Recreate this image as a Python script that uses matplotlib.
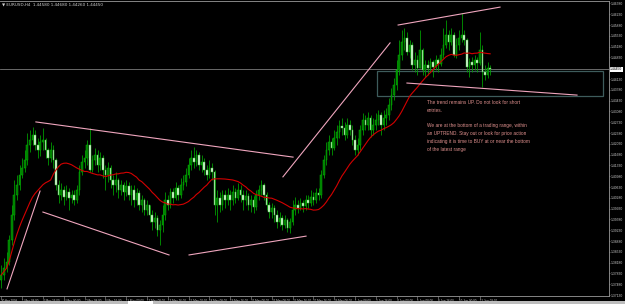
import numpy as np
import pandas as pd
import matplotlib
matplotlib.use("Agg")
import matplotlib.pyplot as plt
import matplotlib.transforms as mtransforms
from matplotlib.patches import Rectangle

# ---- data (H4 bars) ----
title_text = "\u25bc EURUSD,H4  1.44580 1.44680 1.44260 1.44450"

first_open = 1.3762
closes = [
    1.3778, 1.3801, 1.3820, 1.3891, 1.3972, 1.4037, 1.4070, 1.4102, 1.4125, 1.4151,
    1.4199, 1.4215, 1.4232, 1.4199, 1.4183, 1.4209, 1.4215, 1.4183, 1.4157, 1.4183,
    1.4151, 1.4070, 1.4037, 1.4053, 1.4031, 1.4047, 1.4027, 1.4037, 1.4021, 1.4053,
    1.4112, 1.4144, 1.4157, 1.4199, 1.4118, 1.4151, 1.4167, 1.4134, 1.4157, 1.4118,
    1.4102, 1.4125, 1.4086, 1.4070, 1.4086, 1.4053, 1.4070, 1.4047, 1.4066, 1.4037,
    1.4053, 1.4021, 1.4044, 1.4005, 1.4021, 1.3989, 1.4005, 1.3972, 1.3950, 1.3963,
    1.3924, 1.3940, 1.3972, 1.4021, 1.4005, 1.4047, 1.4027, 1.4060, 1.4037, 1.4070,
    1.4079, 1.4102, 1.4134, 1.4157, 1.4144, 1.4167, 1.4134, 1.4144, 1.4118, 1.4102,
    1.4125, 1.4112, 1.4005, 1.4027, 1.4005, 1.4037, 1.4021, 1.4037, 1.4021, 1.4047,
    1.4027, 1.4053, 1.4037, 1.4021, 1.4034, 1.4005, 1.4021, 1.3998, 1.4037, 1.4053,
    1.4070, 1.4037, 1.4005, 1.3982, 1.3995, 1.3972, 1.3950, 1.3963, 1.3940, 1.3956,
    1.3930, 1.3950, 1.3989, 1.4005, 1.3995, 1.4011, 1.4002, 1.4021, 1.4011, 1.4031,
    1.4021, 1.4044, 1.4037, 1.4102, 1.4151, 1.4183, 1.4209, 1.4189, 1.4222, 1.4241,
    1.4261, 1.4254, 1.4232, 1.4264, 1.4248, 1.4215, 1.4183, 1.4199, 1.4248, 1.4280,
    1.4264, 1.4287, 1.4248, 1.4264, 1.4280, 1.4296, 1.4264, 1.4287, 1.4296, 1.4329,
    1.4361, 1.4394, 1.4442, 1.4491, 1.4533, 1.4546, 1.4501, 1.4523, 1.4458, 1.4475,
    1.4449, 1.4507, 1.4442, 1.4458, 1.4449, 1.4468, 1.4452, 1.4475, 1.4462, 1.4491,
    1.4523, 1.4556, 1.4533, 1.4556, 1.4491, 1.4523, 1.4546, 1.4556, 1.4539, 1.4452,
    1.4468, 1.4458, 1.4475, 1.4465, 1.4507, 1.4436, 1.4426, 1.4449, 1.4445,
]
highs = [
    1.3810, 1.3833, 1.3853, 1.3908, 1.4005, 1.4086, 1.4102, 1.4134, 1.4157, 1.4183,
    1.4238, 1.4248, 1.4258, 1.4248, 1.4222, 1.4232, 1.4254, 1.4222, 1.4189, 1.4209,
    1.4199, 1.4157, 1.4086, 1.4076, 1.4066, 1.4070, 1.4060, 1.4053, 1.4053, 1.4070,
    1.4134, 1.4167, 1.4183, 1.4215, 1.4254, 1.4167, 1.4189, 1.4183, 1.4177, 1.4167,
    1.4134, 1.4144, 1.4134, 1.4102, 1.4112, 1.4092, 1.4086, 1.4079, 1.4086, 1.4079,
    1.4070, 1.4070, 1.4060, 1.4053, 1.4037, 1.4027, 1.4021, 1.4005, 1.3989, 1.3982,
    1.3972, 1.3956, 1.4005, 1.4047, 1.4037, 1.4060, 1.4060, 1.4079, 1.4070, 1.4092,
    1.4102, 1.4125, 1.4157, 1.4183, 1.4193, 1.4183, 1.4177, 1.4167, 1.4157, 1.4134,
    1.4151, 1.4141, 1.4118, 1.4053, 1.4047, 1.4053, 1.4053, 1.4060, 1.4053, 1.4070,
    1.4060, 1.4076, 1.4070, 1.4053, 1.4053, 1.4044, 1.4037, 1.4034, 1.4053, 1.4070,
    1.4086, 1.4076, 1.4047, 1.4015, 1.4011, 1.4005, 1.3989, 1.3982, 1.3972, 1.3972,
    1.3963, 1.3963, 1.4021, 1.4031, 1.4021, 1.4027, 1.4021, 1.4037, 1.4037, 1.4053,
    1.4047, 1.4060, 1.4060, 1.4118, 1.4167, 1.4209, 1.4232, 1.4222, 1.4248, 1.4264,
    1.4280, 1.4287, 1.4274, 1.4287, 1.4280, 1.4264, 1.4232, 1.4222, 1.4264, 1.4303,
    1.4296, 1.4306, 1.4296, 1.4287, 1.4303, 1.4313, 1.4306, 1.4313, 1.4319, 1.4351,
    1.4384, 1.4416, 1.4475, 1.4539, 1.4572, 1.4578, 1.4565, 1.4539, 1.4533, 1.4501,
    1.4491, 1.4572, 1.4513, 1.4475, 1.4475, 1.4481, 1.4475, 1.4491, 1.4481, 1.4513,
    1.4578, 1.4604, 1.4572, 1.4578, 1.4565, 1.4546, 1.4572, 1.4627, 1.4572, 1.4546,
    1.4481, 1.4484, 1.4491, 1.4484, 1.4565, 1.4523, 1.4458, 1.4468, 1.4458,
]
lows = [
    1.3736, 1.3762, 1.3788, 1.3810, 1.3875, 1.3956, 1.4021, 1.4053, 1.4092, 1.4112,
    1.4134, 1.4177, 1.4199, 1.4183, 1.4157, 1.4164, 1.4183, 1.4157, 1.4134, 1.4144,
    1.4125, 1.4053, 1.4011, 1.4021, 1.4005, 1.4021, 1.3989, 1.4011, 1.4005, 1.4011,
    1.4037, 1.4102, 1.4125, 1.4134, 1.4112, 1.4112, 1.4134, 1.4112, 1.4118, 1.4092,
    1.4053, 1.4079, 1.4060, 1.4037, 1.4047, 1.4027, 1.4037, 1.4021, 1.4034, 1.4021,
    1.4005, 1.3998, 1.4005, 1.3989, 1.3982, 1.3972, 1.3972, 1.3950, 1.3924, 1.3930,
    1.3904, 1.3875, 1.3917, 1.3956, 1.3989, 1.3995, 1.4011, 1.4021, 1.4021, 1.4027,
    1.4053, 1.4066, 1.4092, 1.4118, 1.4125, 1.4131, 1.4118, 1.4112, 1.4102, 1.4086,
    1.4092, 1.4086, 1.3972, 1.3950, 1.3982, 1.3989, 1.3995, 1.4005, 1.3989, 1.4005,
    1.4011, 1.4021, 1.4015, 1.3989, 1.4005, 1.3989, 1.3982, 1.3979, 1.3989, 1.4021,
    1.4037, 1.4021, 1.3989, 1.3963, 1.3963, 1.3950, 1.3930, 1.3937, 1.3924, 1.3930,
    1.3917, 1.3914, 1.3940, 1.3972, 1.3979, 1.3989, 1.3982, 1.3989, 1.3995, 1.4002,
    1.4005, 1.4011, 1.4021, 1.4027, 1.4092, 1.4134, 1.4167, 1.4167, 1.4183, 1.4199,
    1.4222, 1.4232, 1.4215, 1.4222, 1.4232, 1.4199, 1.4167, 1.4167, 1.4183, 1.4232,
    1.4248, 1.4248, 1.4225, 1.4232, 1.4248, 1.4264, 1.4232, 1.4248, 1.4264, 1.4280,
    1.4313, 1.4345, 1.4377, 1.4426, 1.4475, 1.4507, 1.4491, 1.4481, 1.4442, 1.4436,
    1.4426, 1.4475, 1.4426, 1.4420, 1.4426, 1.4436, 1.4420, 1.4442, 1.4436, 1.4455,
    1.4481, 1.4513, 1.4507, 1.4523, 1.4484, 1.4481, 1.4507, 1.4533, 1.4523, 1.4436,
    1.4420, 1.4436, 1.4442, 1.4436, 1.4458, 1.4387, 1.4410, 1.4416, 1.4426,
]
ma_period = 20

date_labels = [
    "30 Apr 2009", "1 May 08:00", "4 May 16:00", "6 May 00:00", "7 May 08:00",
    "8 May 16:00", "11 May 00:00", "12 May 08:00", "13 May 16:00", "15 May 00:00",
    "18 May 08:00", "19 May 16:00", "21 May 00:00", "22 May 08:00", "25 May 16:00",
    "27 May 16:00", "29 May 00:00", "1 Jun 08:00", "2 Jun 16:00", "4 Jun 00:00",
    "5 Jun 08:00", "8 Jun 16:00", "10 Jun 00:00", "11 Jun 08:00",
]
bars_per_label = 8

price_labels = [
    1.37130, 1.37480, 1.37830, 1.38180, 1.38530, 1.38880, 1.39230, 1.39580,
    1.39930, 1.40280, 1.40630, 1.40980, 1.41330, 1.41680, 1.42030, 1.42380,
    1.42730, 1.43080, 1.43430, 1.43780, 1.44130, 1.44830, 1.45180,
    1.45530, 1.45880, 1.46230, 1.46580,
]

# hand-drawn trend lines: (bar, price) -> (bar, price)
trend_lines = [
    ((2.2, 1.3733), (14.9, 1.4050)),
    ((13.3, 1.4274), (112.2, 1.4160)),
    ((16.0, 1.3982), (64.5, 1.3843)),
    ((72.2, 1.3843), (117.2, 1.3904)),
    ((108.3, 1.4096), (149.5, 1.4530)),
    ((152.6, 1.4588), (191.8, 1.4646)),
    ((156.0, 1.4400), (221.4, 1.4361)),
]
# range rectangle: bar from, bar to, price low, price high
range_box = (144.4, 231.3, 1.4358, 1.4439)

note_lines = [
    "The trend remains UP. Do not look for short",
    "entries.",
    "",
    "We are at the bottom of a trading range, within",
    "an UPTREND. Stay out or look for price action",
    "indicating it is time to BUY at or near the bottom",
    "of the latest range",
]
note_pos = (163.7, 1.4345)

# ---- figure ----
W, H = 625, 304
fig = plt.figure(figsize=(W / 100, H / 100), dpi=100, facecolor="black")
ax = fig.add_axes([0, 8 / H, 609 / W, 295 / H])
ax.set_facecolor("black")

closes = np.array(closes)
highs = np.array(highs)
lows = np.array(lows)
opens = np.concatenate([[first_open], closes[:-1]])
idx = np.arange(len(closes))
highs = np.maximum(highs, np.maximum(opens, closes))
lows = np.minimum(lows, np.minimum(opens, closes))

ax.vlines(idx, lows, highs, color="#00a800", lw=0.55, zorder=2)
up = closes >= opens
body_lo = np.minimum(opens, closes)
body_h = np.maximum(np.abs(closes - opens), 0.00006)
ax.bar(idx[up], body_h[up], bottom=body_lo[up], width=0.62,
       facecolor="#007800", edgecolor="#00b400", lw=0.35, zorder=3)
ax.bar(idx[~up], body_h[~up], bottom=body_lo[~up], width=0.62,
       facecolor="#e4fbe0", edgecolor="#40c040", lw=0.35, zorder=3)

ma = pd.Series(closes).rolling(ma_period, min_periods=1).mean()
ax.plot(idx, ma, color="#d40000", lw=0.8, zorder=4)

for (x0, y0), (x1, y1) in trend_lines:
    ax.plot([x0, x1], [y0, y1], color="#f0a6be", lw=0.8, zorder=5)

b0, b1, plo, phi = range_box
ax.add_patch(Rectangle((b0, plo), b1 - b0, phi - plo, fill=False,
                       edgecolor="#3e5c5c", lw=0.9, zorder=1))

last = closes[-1]
ax.axhline(last, color="#7a7a7a", lw=0.6, zorder=1)

ax.text(note_pos[0], note_pos[1], "\n".join(note_lines), fontsize=3.4,
        family="Liberation Sans", color="#e0908e", va="top", ha="left",
        linespacing=1.7, zorder=6)

# axes / ticks like the terminal
ax.set_xlim(-0.5, 233.7)
ax.set_ylim(1.37100, 1.46658)
ax.spines["left"].set_visible(False)
for side in ["right", "bottom", "top"]:
    ax.spines[side].set_color("#9a9a9a")
    ax.spines[side].set_linewidth(0.6)

ax.yaxis.tick_right()
ax.set_yticks(price_labels)
ax.set_yticklabels([f"{p:.5f}" for p in price_labels], family="Liberation Sans")
ax.tick_params(axis="y", length=1, width=0.4, color="#9a9a9a",
               labelsize=2.4, labelcolor="#c8c8c8", pad=0.3)

tick_pos = [i * bars_per_label for i in range(len(date_labels))]
ax.set_xticks(tick_pos)
ax.set_xticklabels(date_labels, ha="left", family="Liberation Sans")
ax.tick_params(axis="x", length=2, width=0.4, color="#9a9a9a",
               labelsize=2.2, labelcolor="#c8c8c8", pad=0.0)

trans = mtransforms.blended_transform_factory(ax.transAxes, ax.transData)
ax.text(1.002, last, f"{last:.5f}", transform=trans, fontsize=2.4,
        family="Liberation Sans", color="black", va="center", ha="left",
        clip_on=False, bbox=dict(facecolor="white", edgecolor="none", pad=0.3))

fig.text(2 / W, 1 - 5 / H, title_text, fontsize=3.0, color="#d0d0d0",
         va="center", ha="left")

# status strip at the very bottom
fig.patches.append(Rectangle((0, 0), 1, 3 / H, transform=fig.transFigure,
                             facecolor="#bdbdbd", edgecolor="none"))
fig.patches.append(Rectangle((128 / W, 0), 25 / W, 3 / H, transform=fig.transFigure,
                             facecolor="white", edgecolor="none"))

fig.savefig("out.png", dpi=100, facecolor="black")
